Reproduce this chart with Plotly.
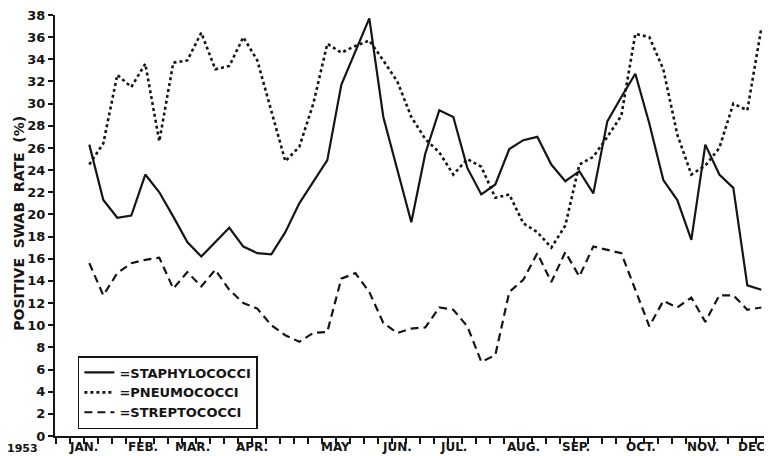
import plotly.graph_objects as go

# Weekly swab survey, 1953 (week index 1..49)
weeks = list(range(1, 50))

staphylococci = [26.3, 21.3, 19.7, 19.9, 23.6, 22.0, 19.8, 17.5, 16.2, 17.5,
                 18.8, 17.1, 16.5, 16.4, 18.4, 21.0, 22.9, 24.9, 31.7, 34.7,
                 37.7, 28.8, 24.0, 19.3, 25.5, 29.4, 28.8, 24.2, 21.8, 22.7,
                 25.9, 26.7, 27.0, 24.5, 23.0, 23.9, 21.9, 28.4, 30.6, 32.7,
                 28.2, 23.1, 21.3, 17.7, 26.3, 23.6, 22.4, 13.6, 13.2]

pneumococci = [24.5, 26.4, 32.6, 31.5, 33.6, 26.6, 33.7, 33.9, 36.4, 33.1,
               33.4, 36.0, 33.9, 29.3, 24.8, 26.1, 30.0, 35.4, 34.6, 35.2,
               35.7, 33.9, 32.0, 28.8, 26.8, 25.6, 23.6, 25.0, 24.3, 21.5,
               21.8, 19.2, 18.4, 17.0, 19.0, 24.5, 25.2, 27.0, 28.9, 36.3,
               36.0, 33.1, 27.2, 23.6, 24.4, 26.0, 30.0, 29.4, 36.8]

streptococci = [15.6, 12.7, 14.7, 15.6, 15.9, 16.1, 13.3, 14.8, 13.5, 15.0,
                13.2, 12.0, 11.5, 10.0, 9.1, 8.5, 9.3, 9.4, 14.2, 14.7,
                13.0, 10.2, 9.3, 9.7, 9.8, 11.6, 11.4, 9.9, 6.7, 7.3,
                13.0, 14.1, 16.5, 13.9, 16.6, 14.4, 17.1, 16.8, 16.5, 13.2,
                9.9, 12.2, 11.6, 12.5, 10.3, 12.7, 12.7, 11.4, 11.6]

month_labels = ["JAN.", "FEB.", "MAR.", "APR.", "MAY", "JUN.", "JUL.",
                "AUG.", "SEP.", "OCT.", "NOV.", "DEC."]
month_pos = [0.55, 4.84, 8.34, 12.62, 18.62, 22.98, 26.98, 31.98, 35.76,
             40.41, 44.84, 48.5]
y_ticks = list(range(0, 39, 2))

INK = "#151515"
FONT = "DejaVu Sans"

fig = go.Figure()
fig.add_trace(go.Scatter(x=weeks, y=staphylococci, mode="lines",
                         name="=STAPHYLOCOCCI",
                         line=dict(color=INK, width=2.2)))
fig.add_trace(go.Scatter(x=weeks, y=pneumococci, mode="lines",
                         name="=PNEUMOCOCCI",
                         line=dict(color=INK, width=2.6, dash="3px,3px")))
fig.add_trace(go.Scatter(x=weeks, y=streptococci, mode="lines",
                         name="=STREPTOCOCCI",
                         line=dict(color=INK, width=2.2, dash="8px,5px")))

annotations = [
    dict(text="POSITIVE  SWAB  RATE  (%)", textangle=-90,
         xref="paper", yref="paper", x=-0.05, y=0.505,
         xanchor="center", yanchor="middle", showarrow=False,
         font=dict(family=FONT, size=14, color=INK, weight="bold")),
    dict(text="1953", xref="paper", yref="paper", x=-0.045, y=-0.03,
         xanchor="center", yanchor="middle", showarrow=False,
         font=dict(family=FONT, size=11, color=INK, weight="bold")),
]
for lab, pos in zip(month_labels, month_pos):
    annotations.append(dict(text=lab, xref="x", yref="paper", x=pos,
                            y=-0.027, xanchor="center", yanchor="middle",
                            showarrow=False,
                            font=dict(family=FONT, size=12, color=INK,
                                      weight="bold")))

# page body has an 8px default margin, so the figure is sized to fit it
fig.update_layout(
    width=764, height=448,
    margin=dict(l=47, r=2, t=7, b=20, autoexpand=False),
    paper_bgcolor="white", plot_bgcolor="white",
    font=dict(family=FONT, color=INK, size=12, weight="bold"),
    showlegend=True,
    legend=dict(x=0.032, y=0.19, xanchor="left", yanchor="top",
                bgcolor="white", bordercolor=INK, borderwidth=1.5,
                font=dict(family=FONT, size=13, color=INK, weight="bold"),
                tracegroupgap=0),
    xaxis=dict(range=[-1.45, 49.62], showgrid=False, zeroline=False,
               automargin=False,
               showline=True, linecolor=INK, linewidth=2,
               tickmode="linear", tick0=-1.4, dtick=1,
               showticklabels=False,
               ticks="outside", ticklen=6, tickwidth=1.5, tickcolor=INK),
    yaxis=dict(range=[0, 38], showgrid=False, zeroline=False,
               automargin=False, ticklabeloverflow="allow",
               showline=True, linecolor=INK, linewidth=2,
               tickmode="array", tickvals=y_ticks,
               ticks="outside", ticklen=5, tickwidth=1.5, tickcolor=INK,
               tickfont=dict(family=FONT, size=13, color=INK, weight="bold")),
    annotations=annotations,
)

fig.write_html("out.html")
